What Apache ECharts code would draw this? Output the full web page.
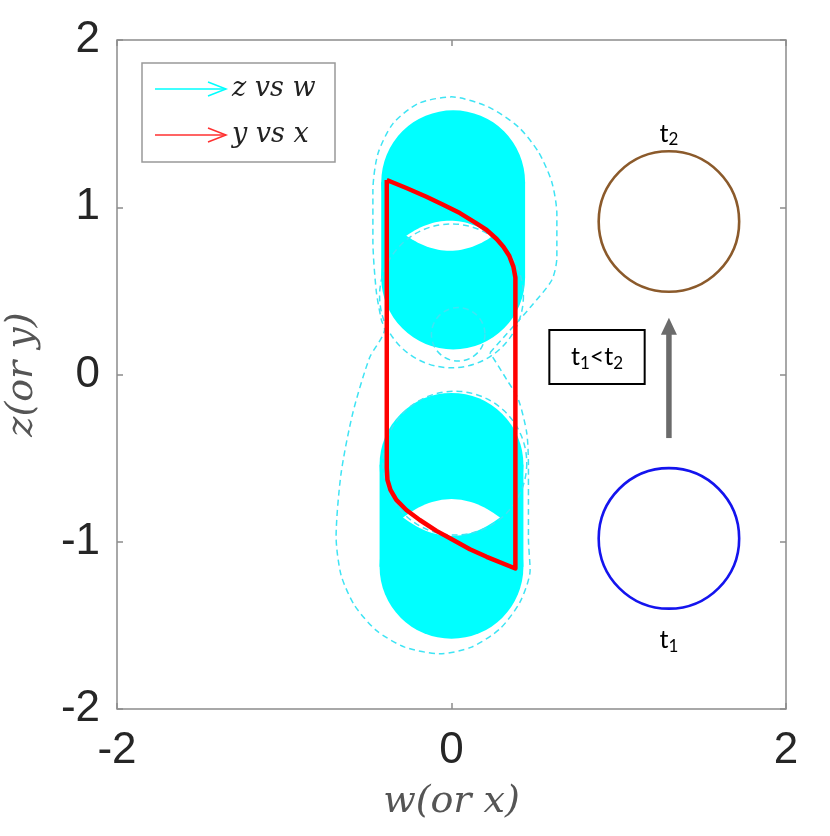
<!DOCTYPE html>
<html>
<head>
<meta charset="utf-8">
<script src="https://cdn.jsdelivr.net/npm/echarts@6/dist/echarts.min.js"></script>
<style>
html, body { margin: 0; padding: 0; background: #fff; }
#chart { width: 830px; height: 836px; }
</style>
</head>
<body>
<div id="chart"></div>
<script>
// tick values
var xTickLabels = [-2, 0, 2];
var yTickLabels = [-2, -1, 0, 1, 2];

// swept cyan discs: [cx, lowest centre y, highest centre y, radius]
var cyanBands = [[0.01, 0.58, 1.15, 0.43], [0.0, -1.15, -0.54, 0.43]];
// white holes left inside the sweep: [cx, cy, half width, half height]
var cyanHoles = [[-0.01, 0.83, 0.26, 0.09], [0.0, -0.855, 0.29, 0.11]];
// dashed cyan circles: [cx, cy, radius]
var dashCircles = [[0.0, 0.47, 0.43], [0.02, -0.53, 0.43], [0.04, 0.24, 0.16]];
// dashed cyan outer loop (w, z)
var dashLoop = [
  [0.23, 0.13], [0.39, 0.31], [0.47, 0.40], [0.60, 0.565], [0.63, 0.70], [0.63, 0.96],
  [0.60, 1.15], [0.52, 1.33], [0.40, 1.48], [0.22, 1.60], [0.0, 1.66], [-0.20, 1.62],
  [-0.35, 1.50], [-0.44, 1.32], [-0.47, 1.10], [-0.47, 0.80], [-0.45, 0.50], [-0.42, 0.33],
  [-0.40, 0.27], [-0.49, 0.10], [-0.59, -0.23], [-0.66, -0.59], [-0.69, -0.97],
  [-0.66, -1.20], [-0.58, -1.38], [-0.45, -1.53], [-0.28, -1.63], [-0.07, -1.67],
  [0.12, -1.63], [0.29, -1.52], [0.41, -1.36], [0.47, -1.17], [0.46, -0.98], [0.46, -0.75],
  [0.46, -0.55], [0.45, -0.35], [0.40, -0.15], [0.33, -0.03], [0.23, 0.13]
];
// red closed curve (x, y)
var redPath = [
  [-0.387, 1.163], [-0.27, 1.115], [-0.15, 1.063], [-0.05, 1.015], [0.05, 0.965], [0.14, 0.91],
  [0.21, 0.864], [0.27, 0.81], [0.31, 0.764], [0.345, 0.71], [0.37, 0.645], [0.382, 0.58],
  [0.382, -1.16], [0.21, -1.09], [0.11, -1.045], [0.01, -0.99], [-0.09, -0.935], [-0.19, -0.87],
  [-0.27, -0.81], [-0.33, -0.75], [-0.365, -0.69], [-0.383, -0.63], [-0.387, -0.56], [-0.387, 1.163]
];
// states at t2 and t1: [cx, cy, radius]
var stateCircles = [[1.3, 0.915, 0.42], [1.3, -0.98, 0.42]];
var stateColors = ['#8b5a2b', '#1414ee'];
var stateLabels = [[1.3, 1.44, '2'], [1.3, -1.59, '1']];
var arrowPts = [[1.3, -0.38, 0.34]];
var noteBox = [[0.585, -0.057, 1.155, 0.266]];

var axisGray = '#8c8c8c';
var tickFont = { color: '#262626', fontSize: 44, fontFamily: 'Liberation Sans' };
var nameFont = { color: '#555', fontSize: 38, fontStyle: 'italic', fontFamily: 'DejaVu Serif' };
var richT = {
  a: { fontSize: 25, fontFamily: 'Lato', color: '#000' },
  s: { fontSize: 17, fontFamily: 'Lato', color: '#000', padding: [12, 0, 0, 0] }
};
var noTickLine = { show: false, onZero: false };
var tickStyle = { inside: true, length: 6, lineStyle: { color: axisGray, width: 1.5 } };

var chart = echarts.init(document.getElementById('chart'), null, { renderer: 'canvas' });

var option = {
  animation: false,
  backgroundColor: '#fff',
  grid: { left: 117, top: 40, width: 669, height: 669, outerBoundsMode: 'none', show: true, borderColor: axisGray, borderWidth: 1.5, backgroundColor: '#fff' },
  xAxis: [{
    type: 'value', min: xTickLabels[0], max: xTickLabels[xTickLabels.length - 1], interval: 2,
    axisLine: noTickLine, splitLine: { show: false }, axisTick: tickStyle,
    axisLabel: Object.assign({ margin: 20 }, tickFont),
    name: 'w(or x)', nameLocation: 'middle', nameGap: 74, nameTextStyle: nameFont
  }, {
    type: 'value', position: 'top', min: -2, max: 2, interval: 2,
    axisLine: noTickLine, splitLine: { show: false }, axisLabel: { show: false }, axisTick: tickStyle
  }],
  yAxis: [{
    type: 'value', min: yTickLabels[0], max: yTickLabels[yTickLabels.length - 1], interval: 1,
    axisLine: noTickLine, splitLine: { show: false }, axisTick: tickStyle,
    axisLabel: Object.assign({ margin: 17 }, tickFont),
    name: 'z(or y)', nameLocation: 'middle', nameGap: 76, nameTextStyle: nameFont
  }, {
    type: 'value', position: 'right', min: -2, max: 2, interval: 1,
    axisLine: noTickLine, splitLine: { show: false }, axisLabel: { show: false }, axisTick: tickStyle
  }],
  graphic: [
    { type: 'rect', shape: { x: 142, y: 63, width: 193, height: 99 }, style: { fill: '#fff', stroke: '#999', lineWidth: 1.5 }, z: 100 },
    { type: 'line', shape: { x1: 155, y1: 89, x2: 226, y2: 89 }, style: { stroke: '#00ffff', lineWidth: 1.5 }, z: 101 },
    { type: 'polyline', shape: { points: [[208, 82], [226, 89], [208, 96]] }, style: { stroke: '#00ffff', lineWidth: 1.5, fill: null }, z: 101 },
    { type: 'line', shape: { x1: 155, y1: 135, x2: 226, y2: 135 }, style: { stroke: '#ff3030', lineWidth: 1.5 }, z: 101 },
    { type: 'polyline', shape: { points: [[208, 128], [226, 135], [208, 142]] }, style: { stroke: '#ff3030', lineWidth: 1.5, fill: null }, z: 101 },
    { type: 'text', x: 232, y: 89, style: { text: 'z vs w', fontSize: 27, fontStyle: 'italic', fontFamily: 'DejaVu Serif', fill: '#222', verticalAlign: 'middle' }, z: 101 },
    { type: 'text', x: 232, y: 135, style: { text: 'y vs x', fontSize: 27, fontStyle: 'italic', fontFamily: 'DejaVu Serif', fill: '#222', verticalAlign: 'middle' }, z: 101 }
  ],
  series: [
    {
      type: 'custom', silent: true, z: 2,
      data: cyanBands,
      encode: { x: [0], y: [1, 2] },
      renderItem: function (params, api) {
        var cx = api.value(0), r = api.value(3);
        var p0 = api.coord([cx, api.value(1)]);
        var p1 = api.coord([cx, api.value(2)]);
        var rp = api.size([r, 0])[0];
        var st = { fill: '#00ffff' };
        return { type: 'group', children: [
          { type: 'rect', shape: { x: p0[0] - rp, y: p1[1], width: 2 * rp, height: p0[1] - p1[1] }, style: st },
          { type: 'circle', shape: { cx: p0[0], cy: p0[1], r: rp }, style: st },
          { type: 'circle', shape: { cx: p1[0], cy: p1[1], r: rp }, style: st }
        ] };
      }
    },
    {
      type: 'custom', silent: true, z: 3,
      data: cyanHoles,
      encode: { x: [0], y: [1] },
      renderItem: function (params, api) {
        var c = api.coord([api.value(0), api.value(1)]);
        var hw = api.size([api.value(2), 0])[0];
        var hh = api.size([0, api.value(3)])[1];
        var pts = [], i, t;
        for (i = 0; i <= 30; i++) {
          t = -1 + i / 15;
          pts.push([c[0] + t * hw, c[1] - hh * (1 - t * t)]);
        }
        for (i = 30; i >= 0; i--) {
          t = -1 + i / 15;
          pts.push([c[0] + t * hw, c[1] + hh * (1 - t * t)]);
        }
        return { type: 'polygon', shape: { points: pts }, style: { fill: '#fff' } };
      }
    },
    {
      type: 'custom', silent: true, z: 4,
      data: dashCircles,
      encode: { x: [0], y: [1] },
      renderItem: function (params, api) {
        var c = api.coord([api.value(0), api.value(1)]);
        var rp = api.size([api.value(2), 0])[0];
        return { type: 'circle', shape: { cx: c[0], cy: c[1], r: rp },
          style: { fill: null, stroke: '#3fe4f4', lineWidth: 1.5, lineDash: [6, 4] } };
      }
    },
    {
      type: 'line', silent: true, z: 4,
      data: dashLoop, showSymbol: false, smooth: 0.25,
      lineStyle: { color: '#3fe4f4', width: 1.5, type: [6, 4] }
    },
    {
      type: 'line', silent: true, z: 5,
      data: redPath, showSymbol: false,
      lineStyle: { color: '#ff0000', width: 4.5, join: 'round' }
    },
    {
      type: 'custom', silent: true, z: 5,
      data: stateCircles,
      encode: { x: [0], y: [1] },
      renderItem: function (params, api) {
        var c = api.coord([api.value(0), api.value(1)]);
        var rp = api.size([api.value(2), 0])[0];
        return { type: 'circle', shape: { cx: c[0], cy: c[1], r: rp },
          style: { fill: null, stroke: stateColors[params.dataIndex], lineWidth: 2.6 } };
      }
    },
    {
      type: 'custom', silent: true, z: 6,
      data: arrowPts,
      encode: { x: [0], y: [1, 2] },
      renderItem: function (params, api) {
        var p0 = api.coord([api.value(0), api.value(1)]);
        var p1 = api.coord([api.value(0), api.value(2)]);
        var head = 17;
        return { type: 'group', children: [
          { type: 'line', shape: { x1: p0[0], y1: p0[1], x2: p1[0], y2: p1[1] + head - 2 }, style: { stroke: '#6b6b6b', lineWidth: 5.5 } },
          { type: 'polygon', shape: { points: [[p1[0], p1[1]], [p1[0] - 8, p1[1] + head], [p1[0] + 8, p1[1] + head]] }, style: { fill: '#6b6b6b' } }
        ] };
      }
    },
    {
      type: 'custom', silent: true, z: 6,
      data: noteBox,
      encode: { x: [0, 2], y: [1, 3] },
      renderItem: function (params, api) {
        var a = api.coord([api.value(0), api.value(3)]);
        var b = api.coord([api.value(2), api.value(1)]);
        return { type: 'group', children: [
          { type: 'rect', shape: { x: a[0], y: a[1], width: b[0] - a[0], height: b[1] - a[1] }, style: { fill: '#fff', stroke: '#000', lineWidth: 2 } },
          { type: 'text', x: (a[0] + b[0]) / 2, y: (a[1] + b[1]) / 2, style: { text: '{a|t}{s|1}{a|<t}{s|2}', rich: richT, align: 'center', verticalAlign: 'middle' } }
        ] };
      }
    },
    {
      type: 'custom', silent: true, z: 6,
      data: stateLabels,
      encode: { x: [0], y: [1] },
      renderItem: function (params, api) {
        var c = api.coord([api.value(0), api.value(1)]);
        var sub = stateLabels[params.dataIndex][2];
        return { type: 'text', x: c[0], y: c[1], style: { text: '{a|t}{s|' + sub + '}', rich: richT, align: 'center', verticalAlign: 'middle' } };
      }
    }
  ]
};

chart.setOption(option);
</script>
</body>
</html>
